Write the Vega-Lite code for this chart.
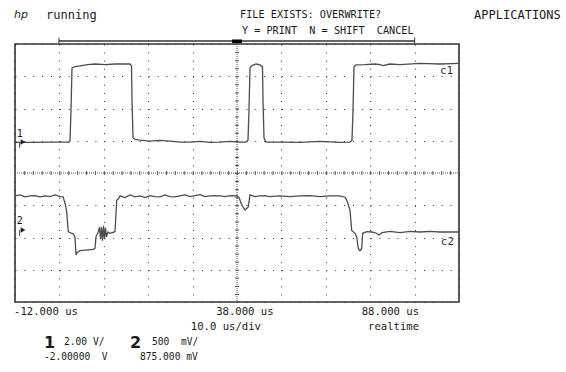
{
  "$schema": "https://vega.github.io/schema/vega-lite/v6.json",
  "width": 444,
  "height": 258,
  "autosize": {"type": "none"},
  "padding": {"left": 15, "top": 44, "right": 107, "bottom": 70},
  "background": "white",
  "config": {
    "view": {"stroke": "#333333", "strokeWidth": 1.6},
    "text": {"font": "DejaVu Sans Mono", "color": "#1a1a1a"}
  },
  "datasets": {
    "ch1": [
      {"t": -12.0, "d": 0.95}, {"t": -8.62, "d": 0.95}, {"t": -4.12, "d": 0.96}, {"t": 0.16, "d": 0.96},
      {"t": 0.39, "d": 0.99}, {"t": 0.61, "d": 1.95}, {"t": 0.84, "d": 3.26}, {"t": 1.51, "d": 3.3},
      {"t": 2.64, "d": 3.32}, {"t": 4.44, "d": 3.36}, {"t": 6.02, "d": 3.38}, {"t": 8.27, "d": 3.36},
      {"t": 10.52, "d": 3.38}, {"t": 12.77, "d": 3.38}, {"t": 13.9, "d": 3.38}, {"t": 14.24, "d": 3.32},
      {"t": 14.35, "d": 2.26}, {"t": 14.58, "d": 1.09}, {"t": 15.03, "d": 1.04}, {"t": 16.15, "d": 1.02},
      {"t": 18.41, "d": 0.99}, {"t": 20.66, "d": 1.01}, {"t": 22.91, "d": 0.99}, {"t": 25.16, "d": 0.96},
      {"t": 27.41, "d": 0.96}, {"t": 29.67, "d": 0.98}, {"t": 31.92, "d": 0.95}, {"t": 34.17, "d": 0.96},
      {"t": 36.42, "d": 0.98}, {"t": 38.68, "d": 0.96}, {"t": 40.03, "d": 0.96}, {"t": 40.48, "d": 1.02},
      {"t": 40.7, "d": 1.95}, {"t": 40.93, "d": 3.26}, {"t": 41.38, "d": 3.33}, {"t": 42.28, "d": 3.38},
      {"t": 43.18, "d": 3.35}, {"t": 43.74, "d": 3.29}, {"t": 43.86, "d": 2.26}, {"t": 44.08, "d": 1.09},
      {"t": 44.53, "d": 0.96}, {"t": 47.68, "d": 0.96}, {"t": 52.19, "d": 0.95}, {"t": 56.69, "d": 0.98},
      {"t": 61.2, "d": 0.95}, {"t": 63.45, "d": 0.96}, {"t": 63.9, "d": 1.02}, {"t": 64.13, "d": 1.95},
      {"t": 64.35, "d": 3.29}, {"t": 64.8, "d": 3.35}, {"t": 66.83, "d": 3.36}, {"t": 69.08, "d": 3.38},
      {"t": 70.21, "d": 3.36}, {"t": 70.88, "d": 3.33}, {"t": 72.46, "d": 3.38}, {"t": 74.71, "d": 3.36},
      {"t": 79.22, "d": 3.4}, {"t": 83.72, "d": 3.38}, {"t": 88.0, "d": 3.4}
    ],
    "ch2": [
      {"t": -12.0, "d": -0.71}, {"t": -10.87, "d": -0.68}, {"t": -9.75, "d": -0.74}, {"t": -8.62, "d": -0.71},
      {"t": -7.5, "d": -0.7}, {"t": -6.37, "d": -0.74}, {"t": -5.24, "d": -0.71}, {"t": -4.12, "d": -0.73},
      {"t": -2.99, "d": -0.68}, {"t": -1.86, "d": -0.73}, {"t": -1.19, "d": -0.74}, {"t": -0.74, "d": -0.93},
      {"t": -0.36, "d": -1.2}, {"t": 0.0, "d": -1.82}, {"t": 0.39, "d": -1.85}, {"t": 1.13, "d": -1.89},
      {"t": 1.51, "d": -1.98}, {"t": 1.74, "d": -2.54}, {"t": 1.96, "d": -2.47}, {"t": 2.64, "d": -2.41},
      {"t": 3.99, "d": -2.39}, {"t": 5.64, "d": -2.37}, {"t": 6.02, "d": -2.33}, {"t": 6.24, "d": -1.98},
      {"t": 6.76, "d": -1.82}, {"t": 7.03, "d": -1.68}, {"t": 7.26, "d": -2.05}, {"t": 7.48, "d": -1.68},
      {"t": 7.71, "d": -2.1}, {"t": 7.93, "d": -1.64}, {"t": 8.16, "d": -2.05}, {"t": 8.38, "d": -1.7},
      {"t": 8.61, "d": -1.98}, {"t": 8.95, "d": -1.83}, {"t": 9.4, "d": -1.87}, {"t": 10.52, "d": -1.82},
      {"t": 10.91, "d": -0.84}, {"t": 11.27, "d": -0.81}, {"t": 11.65, "d": -0.71}, {"t": 12.77, "d": -0.76},
      {"t": 13.9, "d": -0.68}, {"t": 15.03, "d": -0.74}, {"t": 16.15, "d": -0.71}, {"t": 17.28, "d": -0.76},
      {"t": 18.41, "d": -0.7}, {"t": 19.53, "d": -0.73}, {"t": 20.66, "d": -0.74}, {"t": 21.78, "d": -0.68},
      {"t": 22.91, "d": -0.73}, {"t": 24.04, "d": -0.74}, {"t": 25.16, "d": -0.71}, {"t": 26.29, "d": -0.68},
      {"t": 27.41, "d": -0.73}, {"t": 28.54, "d": -0.7}, {"t": 29.67, "d": -0.67}, {"t": 30.79, "d": -0.73},
      {"t": 31.92, "d": -0.71}, {"t": 33.05, "d": -0.7}, {"t": 34.17, "d": -0.71}, {"t": 35.3, "d": -0.73},
      {"t": 36.42, "d": -0.7}, {"t": 37.55, "d": -0.71}, {"t": 38.0, "d": -0.7}, {"t": 38.52, "d": -0.78},
      {"t": 39.06, "d": -0.99}, {"t": 39.8, "d": -1.15}, {"t": 40.54, "d": -1.05}, {"t": 40.93, "d": -0.68},
      {"t": 42.05, "d": -0.73}, {"t": 43.18, "d": -0.71}, {"t": 44.31, "d": -0.7}, {"t": 45.43, "d": -0.73},
      {"t": 47.68, "d": -0.71}, {"t": 49.94, "d": -0.73}, {"t": 52.19, "d": -0.71}, {"t": 54.44, "d": -0.7},
      {"t": 56.69, "d": -0.73}, {"t": 58.95, "d": -0.71}, {"t": 61.2, "d": -0.71}, {"t": 62.32, "d": -0.75},
      {"t": 62.71, "d": -0.84}, {"t": 63.45, "d": -1.15}, {"t": 63.83, "d": -1.78}, {"t": 64.58, "d": -1.87},
      {"t": 64.96, "d": -1.98}, {"t": 65.32, "d": -2.34}, {"t": 65.7, "d": -2.41}, {"t": 66.09, "d": -2.34},
      {"t": 66.31, "d": -1.87}, {"t": 67.21, "d": -1.82}, {"t": 68.41, "d": -1.83}, {"t": 69.31, "d": -1.86},
      {"t": 69.98, "d": -1.92}, {"t": 70.66, "d": -1.85}, {"t": 72.46, "d": -1.81}, {"t": 74.71, "d": -1.85},
      {"t": 76.97, "d": -1.81}, {"t": 79.22, "d": -1.83}, {"t": 81.47, "d": -1.81}, {"t": 83.72, "d": -1.83},
      {"t": 88.0, "d": -1.83}
    ],
    "labels": [
      {"text": "running", "t": -5.0, "d": 4.9, "kind": "top"},
      {"text": "APPLICATIONS", "t": 91.4, "d": 4.9, "kind": "top"},
      {"text": "FILE EXISTS: OVERWRITE?", "t": 38.7, "d": 4.9, "kind": "msg"},
      {"text": "Y = PRINT\u00a0\u00a0N = SHIFT\u00a0\u00a0CANCEL", "t": 39.1, "d": 4.4, "kind": "msg"},
      {"text": "-12.000 us", "t": -12.2, "d": -4.31, "kind": "foot"},
      {"text": "38.000 us", "t": 33.3, "d": -4.31, "kind": "foot"},
      {"text": "10.0 us/div", "t": 27.6, "d": -4.78, "kind": "foot"},
      {"text": "2.00 V/", "t": -0.96, "d": -5.24, "kind": "chan"},
      {"text": "500\u00a0\u00a0mV/", "t": 18.86, "d": -5.24, "kind": "chan"},
      {"text": "-2.00000\u00a0\u00a0V", "t": -5.47, "d": -5.71, "kind": "chan"},
      {"text": "875.000 mV", "t": 16.15, "d": -5.71, "kind": "chan"},
      {"text": "88.000 us", "t": 79.0, "d": -4.31, "kind": "footR"},
      {"text": "realtime", "t": 79.0, "d": -4.78, "kind": "footR"},
      {"text": "1", "t": -5.47, "d": -5.26, "kind": "big"},
      {"text": "2", "t": 13.9, "d": -5.26, "kind": "big"},
      {"text": "c1", "t": 83.7, "d": 3.17, "kind": "trace"},
      {"text": "c2", "t": 83.9, "d": -2.13, "kind": "trace"},
      {"text": "1", "t": -10.95, "d": 1.2, "kind": "marker"},
      {"text": "2", "t": -10.95, "d": -1.5, "kind": "marker"},
      {"text": "hp", "t": -12.2, "d": 4.9, "kind": "logo"}
    ]
  },
  "encoding": {
    "x": {"field": "t", "type": "quantitative", "title": null, "scale": {"domain": [-12, 88], "nice": false, "zero": false},
      "axis": {"values": [-12, -2, 8, 18, 28, 48, 58, 68, 78, 88], "grid": true, "gridDash": [1, 7.0625], "gridColor": "#333333", "gridWidth": 1, "labels": false, "ticks": false, "domain": false}},
    "y": {"field": "d", "type": "quantitative", "title": null, "scale": {"domain": [-4, 4], "nice": false, "zero": false},
      "axis": {"values": [-4, -3, -2, -1, 1, 2, 3, 4], "grid": true, "gridDash": [1, 7.88], "gridColor": "#333333", "gridWidth": 1, "labels": false, "ticks": false, "domain": false}}
  },
  "layer": [
    {
      "data": {"values": [{"t": -12, "t2": 88, "d": 0}]},
      "mark": {"type": "rule", "color": "#555555", "strokeWidth": 1, "strokeDash": [1, 1]},
      "encoding": {"x2": {"field": "t2"}}
    },
    {
      "data": {"values": [{"t": -12, "t2": 88, "d": 0}]},
      "mark": {"type": "rule", "color": "#555555", "strokeWidth": 4, "strokeDash": [1, 7.88]},
      "encoding": {"x2": {"field": "t2"}}
    },
    {
      "data": {"values": [{"t": 38, "d": 4, "d2": -4}]},
      "mark": {"type": "rule", "color": "#555555", "strokeWidth": 1, "strokeDash": [1, 1]},
      "encoding": {"y2": {"field": "d2"}}
    },
    {
      "data": {"values": [{"t": 38, "d": 4, "d2": -4}]},
      "mark": {"type": "rule", "color": "#555555", "strokeWidth": 4, "strokeDash": [1, 7.0625]},
      "encoding": {"y2": {"field": "d2"}}
    },
    {
      "data": {"values": [{"t": -2.1, "t2": 78, "d": 4.09}]},
      "mark": {"type": "rule", "color": "#333333", "strokeWidth": 1.5},
      "encoding": {"x2": {"field": "t2"}}
    },
    {
      "data": {"values": [{"t": -2.1, "d": 4.2, "d2": 4.03}, {"t": 78, "d": 4.2, "d2": 4.03}]},
      "mark": {"type": "rule", "color": "#333333", "strokeWidth": 1},
      "encoding": {"y2": {"field": "d2"}}
    },
    {
      "data": {"values": [{"t": 36.9, "t2": 39.1, "d": 4.14, "d2": 4.03}]},
      "mark": {"type": "rect", "color": "#000000"},
      "encoding": {"x2": {"field": "t2"}, "y2": {"field": "d2"}}
    },
    {
      "data": {"name": "ch1"},
      "mark": {"type": "line", "color": "#4d4d4d", "strokeWidth": 1.3},
      "encoding": {}
    },
    {
      "data": {"name": "ch2"},
      "mark": {"type": "line", "color": "#4d4d4d", "strokeWidth": 1.3},
      "encoding": {}
    },
    {
      "data": {"values": [{"t": -10.2, "d": 0.96}, {"t": -10.2, "d": -1.77}]},
      "mark": {"type": "point", "shape": "triangle-right", "filled": true, "color": "#222222", "size": 30, "opacity": 1}
    },
    {
      "data": {"values": [{"t": -10.95, "d": 0.96, "d2": 0.78}, {"t": -10.95, "d": -1.77, "d2": -1.95}]},
      "mark": {"type": "rule", "color": "#444444", "strokeWidth": 1},
      "encoding": {"y2": {"field": "d2"}}
    },
    {
      "data": {"name": "labels"},
      "transform": [{"filter": "datum.kind === 'top'"}],
      "mark": {"type": "text", "align": "left", "baseline": "middle", "fontSize": 12},
      "encoding": {"text": {"field": "text"}}
    },
    {
      "data": {"name": "labels"},
      "transform": [{"filter": "datum.kind === 'msg'"}],
      "mark": {"type": "text", "align": "left", "baseline": "middle", "fontSize": 10.2},
      "encoding": {"text": {"field": "text"}}
    },
    {
      "data": {"name": "labels"},
      "transform": [{"filter": "datum.kind === 'foot'"}],
      "mark": {"type": "text", "align": "left", "baseline": "middle", "fontSize": 10.6},
      "encoding": {"text": {"field": "text"}}
    },
    {
      "data": {"name": "labels"},
      "transform": [{"filter": "datum.kind === 'chan'"}],
      "mark": {"type": "text", "align": "left", "baseline": "middle", "fontSize": 9.6},
      "encoding": {"text": {"field": "text"}}
    },
    {
      "data": {"name": "labels"},
      "transform": [{"filter": "datum.kind === 'footR'"}],
      "mark": {"type": "text", "align": "right", "baseline": "middle", "fontSize": 10.6},
      "encoding": {"text": {"field": "text"}}
    },
    {
      "data": {"name": "labels"},
      "transform": [{"filter": "datum.kind === 'big'"}],
      "mark": {"type": "text", "align": "left", "baseline": "middle", "fontSize": 16, "fontWeight": "bold", "font": "DejaVu Sans"},
      "encoding": {"text": {"field": "text"}}
    },
    {
      "data": {"name": "labels"},
      "transform": [{"filter": "datum.kind === 'trace'"}],
      "mark": {"type": "text", "align": "left", "baseline": "middle", "fontSize": 11, "color": "#333333"},
      "encoding": {"text": {"field": "text"}}
    },
    {
      "data": {"name": "labels"},
      "transform": [{"filter": "datum.kind === 'marker'"}],
      "mark": {"type": "text", "align": "center", "baseline": "middle", "fontSize": 10},
      "encoding": {"text": {"field": "text"}}
    },
    {
      "data": {"name": "labels"},
      "transform": [{"filter": "datum.kind === 'logo'"}],
      "mark": {"type": "text", "align": "left", "baseline": "middle", "fontSize": 11, "fontStyle": "italic", "font": "DejaVu Sans"},
      "encoding": {"text": {"field": "text"}}
    }
  ]
}
